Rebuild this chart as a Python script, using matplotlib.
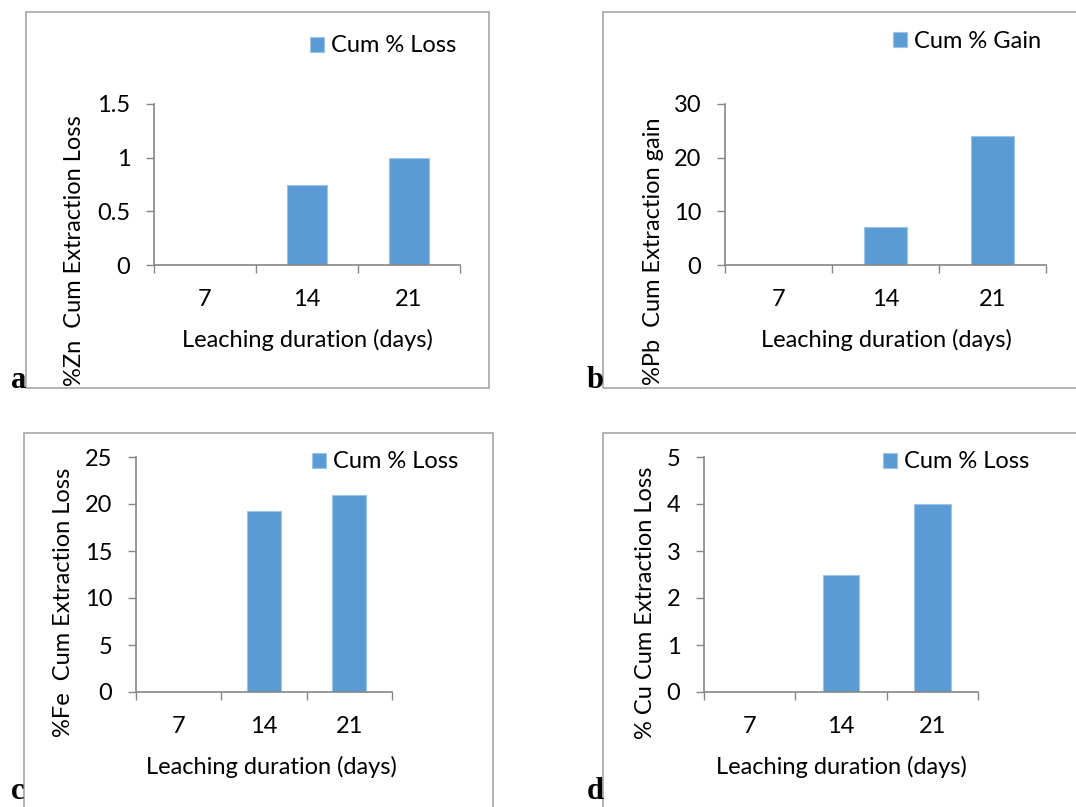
import matplotlib.pyplot as plt
from matplotlib.patches import Rectangle

W, H = 1076, 807

days = ['7', '14', '21']
zn_loss = [0, 0.75, 1.0]
pb_gain = [0, 7, 24]
fe_loss = [0, 19.25, 21]
cu_loss = [0, 2.5, 4]

zn_ticks = [0, 0.5, 1, 1.5]
zn_ticklabels = ['0', '0.5', '1', '1.5']
pb_ticks = [0, 10, 20, 30]
fe_ticks = [0, 5, 10, 15, 20, 25]
cu_ticks = [0, 1, 2, 3, 4, 5]

BAR = '#5b9bd5'
AXC = '#868686'
BOXC = '#a6a6a6'
FONT = 'Lato'
FS = 17

plt.rcParams['font.family'] = FONT

fig = plt.figure(figsize=(W / 100, H / 100), dpi=100)


def fx(x):
    return x / W


def fy(y):
    return 1 - y / H


def panel(box, axbox, values, ticks, ticklabels, ylabel, legend_label,
          legend_xy, ylabel_xy, xlabel_xy, letter, letter_xy):
    # outer frame
    bx0, by0, bx1, by1 = box
    fig.patches.append(Rectangle((fx(bx0), fy(by1)), fx(bx1 - bx0), (by1 - by0) / H,
                                 transform=fig.transFigure, fill=False,
                                 edgecolor=BOXC, linewidth=1.2))
    x0, y0, x1, y1 = axbox
    ax = fig.add_axes([fx(x0), fy(y1), fx(x1 - x0), (y1 - y0) / H])
    pos = range(len(values))
    ax.bar(pos, values, width=0.4, color=BAR, edgecolor='#9dc3e6',
           linewidth=0.8, label=legend_label, zorder=2)
    ax.set_xlim(-0.5, len(values) - 0.5)
    ax.set_ylim(ticks[0], ticks[-1])
    ax.set_yticks(ticks)
    ax.set_yticklabels(ticklabels)
    ax.set_xticks([i - 0.5 for i in range(len(values) + 1)])
    ax.set_xticklabels([])
    ax.set_xticks(list(pos), minor=True)
    ax.set_xticklabels(days, minor=True)
    ax.tick_params(axis='x', which='major', length=6, width=1, color=AXC, direction='out')
    ax.tick_params(axis='x', which='minor', length=0, pad=17, labelsize=FS)
    ax.tick_params(axis='y', length=6, width=1, color=AXC, pad=11, labelsize=FS)
    for s in ['top', 'right']:
        ax.spines[s].set_visible(False)
    for s in ['left', 'bottom']:
        ax.spines[s].set_color(AXC)
        ax.spines[s].set_linewidth(1.2)
    ax.patch.set_alpha(0)

    ax.set_xlabel('Leaching duration (days)', fontsize=FS)
    ax.xaxis.set_label_coords((xlabel_xy[0] - x0) / (x1 - x0),
                              (y1 - xlabel_xy[1]) / (y1 - y0))
    ax.xaxis.label.set_va('center')
    ax.set_ylabel(ylabel, fontsize=FS)
    ax.yaxis.set_label_coords((ylabel_xy[0] - x0) / (x1 - x0),
                              (y1 - ylabel_xy[1]) / (y1 - y0))
    ax.yaxis.label.set_va('center')

    ax.legend(loc='center left', bbox_to_anchor=(fx(legend_xy[0]), fy(legend_xy[1])),
              bbox_transform=fig.transFigure, frameon=False, fontsize=FS,
              handlelength=0.6, handleheight=0.6, handletextpad=0.3,
              borderpad=0, borderaxespad=0)

    fig.text(fx(letter_xy[0]), fy(letter_xy[1]), letter, ha='left', va='bottom',
             fontsize=22, fontweight='bold', family='Liberation Serif')
    return ax


panel((26, 12, 489, 388), (154, 104, 460, 265), zn_loss, zn_ticks, zn_ticklabels,
      '%Zn  Cum Extraction Loss', 'Cum % Loss', (310, 46), (75, 251), (307, 340),
      'a', (11, 395))
panel((603, 12, 1100, 388), (725, 104, 1046, 265), pb_gain, pb_ticks,
      [str(t) for t in pb_ticks], '%Pb  Cum Extraction gain', 'Cum % Gain',
      (893, 41), (653, 251), (886, 340), 'b', (587, 395))
panel((24, 433, 493, 830), (136, 457, 392, 692), fe_loss, fe_ticks,
      [str(t) for t in fe_ticks], '%Fe  Cum Extraction Loss', 'Cum % Loss',
      (312, 462), (63, 602), (271, 767), 'c', (11, 806))
panel((603, 433, 1100, 830), (704, 457, 978, 692), cu_loss, cu_ticks,
      [str(t) for t in cu_ticks], '% Cu Cum Extraction Loss', 'Cum % Loss',
      (883, 462), (645, 603), (841, 767), 'd', (587, 806))

fig.savefig('out.png', dpi=100)
